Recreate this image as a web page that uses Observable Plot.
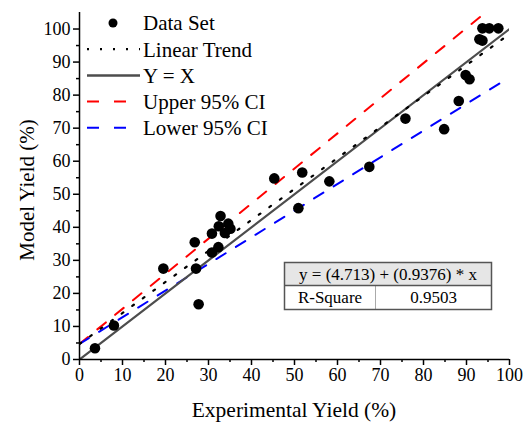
<!DOCTYPE html>
<html>
<head>
<meta charset="utf-8">
<script src="https://cdn.jsdelivr.net/npm/d3@7"></script>
<script src="https://cdn.jsdelivr.net/npm/@observablehq/plot@0.6"></script>
<style>
  html, body { margin: 0; padding: 0; background: #fff; }
  #chart svg text { font-family: 'Liberation Serif', 'Times New Roman', serif; }
</style>
</head>
<body>
<div id="chart"></div>
<script>
// Data
const experimentalYield = [3.6, 8.0, 19.5, 26.8, 27.1, 27.7, 30.8, 30.8, 32.3, 32.4, 32.8, 33.8, 34.6, 35.1, 45.3, 50.9, 51.8, 58.1, 67.4, 75.8, 84.8, 88.2, 89.8, 90.7, 93.0, 93.7, 93.7, 95.3, 97.4];
const modelYield        = [3.4, 10.3, 27.5, 35.5, 27.5, 16.7, 38.1, 32.4, 34.0, 40.3, 43.4, 38.3, 41.1, 39.6, 54.8, 45.8, 56.6, 53.9, 58.3, 72.9, 69.7, 78.2, 86.1, 84.8, 96.9, 96.5, 100.2, 100.2, 100.2];

const lineNames      = ["Linear Trend", "Y = X", "Upper 95% CI", "Lower 95% CI"];
const lineIntercepts = [4.713, 0, 4.713, 4.713];
const lineSlopes     = [0.9376, 1, 1.062, 0.807];
const lineXRange     = [0, 100];

const xTicks = [0, 10, 20, 30, 40, 50, 60, 70, 80, 90, 100];
const yTicks = [0, 10, 20, 30, 40, 50, 60, 70, 80, 90, 100];
const xMinorTicks = [5, 15, 25, 35, 45, 55, 65, 75, 85, 95];
const yMinorTicks = [5, 15, 25, 35, 45, 55, 65, 75, 85, 95];

const equationText = "y = (4.713) + (0.9376) * x";
const rSquareLabel = "R-Square";
const rSquareValue = "0.9503";

const points = experimentalYield.map((x, i) => ({x, y: modelYield[i]}));
const lineData = name => {
  const i = lineNames.indexOf(name);
  return lineXRange.map(x => ({x, y: lineIntercepts[i] + lineSlopes[i] * x}));
};

const FONT = "'Liberation Serif', 'Times New Roman', serif";

const plot = Plot.plot({
  width: 524,
  height: 423,
  marginLeft: 79,
  marginRight: 15,
  marginTop: 12,
  marginBottom: 64,
  x: {domain: [0, 100]},
  y: {domain: [0, 105]},
  style: {fontFamily: FONT, fontSize: "18px", color: "black", background: "white", overflow: "visible"},
  marks: [
    Plot.line(lineData("Upper 95% CI"), {x: "x", y: "y", stroke: "#ff0000", strokeWidth: 2, strokeDasharray: "11,12", clip: true}),
    Plot.line(lineData("Lower 95% CI"), {x: "x", y: "y", stroke: "#0000ff", strokeWidth: 2, strokeDasharray: "11,12", clip: true}),
    Plot.line(lineData("Y = X"), {x: "x", y: "y", stroke: "#4d4d4d", strokeWidth: 2.2, clip: true}),
    Plot.line(lineData("Linear Trend"), {x: "x", y: "y", stroke: "black", strokeWidth: 2.2, strokeDasharray: "2,11", clip: true}),
    Plot.dot(points, {x: "x", y: "y", r: 5.3, fill: "black", stroke: "none"}),
    Plot.axisX({ticks: xTicks, tickSize: 6, tickPadding: 3, label: null, fontSize: 18, fontFamily: FONT, strokeWidth: 1.5}),
    Plot.axisX({ticks: xMinorTicks, tickSize: 3, text: null, label: null, strokeWidth: 1.5}),
    Plot.axisY({ticks: yTicks, tickSize: 6, tickPadding: 3, label: null, fontSize: 18, fontFamily: FONT, strokeWidth: 1.5}),
    Plot.axisY({ticks: yMinorTicks, tickSize: 3, text: null, label: null, strokeWidth: 1.5}),
    Plot.ruleY([0], {strokeWidth: 1.5}),
    Plot.ruleX([0], {strokeWidth: 1.5})
  ]
});

document.getElementById("chart").appendChild(plot);

const svg = d3.select(plot);

// Axis titles
svg.append("text")
  .attr("x", 294).attr("y", 417)
  .attr("text-anchor", "middle")
  .style("font-family", FONT).style("font-size", "21.5px").attr("fill", "black")
  .text("Experimental Yield (%)");
svg.append("text")
  .attr("transform", "translate(34,190) rotate(-90)")
  .attr("text-anchor", "middle")
  .style("font-family", FONT).style("font-size", "21px").attr("fill", "black")
  .text("Model Yield (%)");

// Legend
const legend = svg.append("g").style("font-family", FONT).style("font-size", "21px");
const legendItems = [
  {label: "Data Set", type: "dot"},
  {label: "Linear Trend", type: "line", stroke: "black", dash: "2,11", width: 2.2},
  {label: "Y = X", type: "line", stroke: "#4d4d4d", dash: null, width: 2.5},
  {label: "Upper 95% CI", type: "line", stroke: "#ff0000", dash: "12,15", width: 2},
  {label: "Lower 95% CI", type: "line", stroke: "#0000ff", dash: "12,15", width: 2}
];
legendItems.forEach((d, i) => {
  const yy = 23 + i * 26.2;
  if (d.type === "dot") {
    legend.append("circle").attr("cx", 113).attr("cy", yy).attr("r", 4.5).attr("fill", "black");
  } else {
    const ln = legend.append("line").attr("x1", 87).attr("x2", 140).attr("y1", yy).attr("y2", yy)
      .attr("stroke", d.stroke).attr("stroke-width", d.width);
    if (d.dash) ln.attr("stroke-dasharray", d.dash);
  }
  legend.append("text").attr("x", 143).attr("y", yy).attr("dy", "0.35em")
    .attr("text-anchor", "start").style("text-anchor", "start").attr("fill", "black").text(d.label);
});

// Table
const tbl = svg.append("g").style("font-family", FONT).style("font-size", "17px");
const tx0 = 284.5, tx1 = 491.5, ty0 = 262.5, tym = 285.5, ty1 = 309.5, txm = 375.5;
tbl.append("rect").attr("x", tx0).attr("y", ty0).attr("width", tx1 - tx0).attr("height", tym - ty0).attr("fill", "#e6e6e6");
tbl.append("rect").attr("x", tx0).attr("y", tym).attr("width", tx1 - tx0).attr("height", ty1 - tym).attr("fill", "white");
tbl.append("line").attr("x1", txm).attr("x2", txm).attr("y1", tym).attr("y2", ty1).attr("stroke", "#aaaaaa").attr("stroke-width", 1);
tbl.append("line").attr("x1", tx0).attr("x2", tx1).attr("y1", tym).attr("y2", tym).attr("stroke", "#555555").attr("stroke-width", 1.5);
tbl.append("rect").attr("x", tx0).attr("y", ty0).attr("width", tx1 - tx0).attr("height", ty1 - ty0)
  .attr("fill", "none").attr("stroke", "#555555").attr("stroke-width", 1.5);
tbl.append("text").attr("x", (tx0 + tx1) / 2).attr("y", (ty0 + tym) / 2).attr("dy", "0.35em").attr("text-anchor", "middle").attr("fill", "black").text(equationText);
tbl.append("text").attr("x", (tx0 + txm) / 2).attr("y", (tym + ty1) / 2).attr("dy", "0.35em").attr("text-anchor", "middle").attr("fill", "black").text(rSquareLabel);
tbl.append("text").attr("x", (txm + tx1) / 2).attr("y", (tym + ty1) / 2).attr("dy", "0.35em").attr("text-anchor", "middle").attr("fill", "black").text(rSquareValue);
</script>
</body>
</html>
